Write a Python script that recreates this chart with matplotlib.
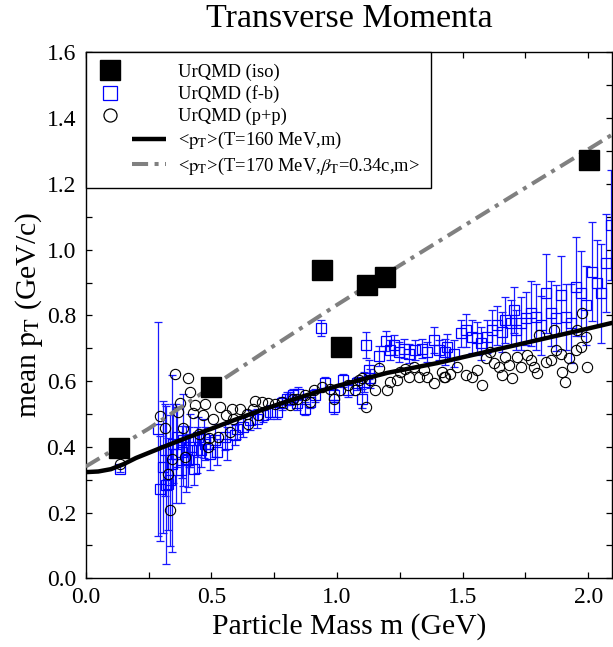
import matplotlib
matplotlib.use("Agg")
import matplotlib.pyplot as plt
from matplotlib.lines import Line2D
from matplotlib.legend_handler import HandlerLine2D
from matplotlib.ticker import MultipleLocator, FormatStrFormatter

plt.rcParams['font.family'] = ['Liberation Serif', 'DejaVu Serif']
plt.rcParams['mathtext.fontset'] = 'stix'

# ---------------- data ----------------
iso_mass = [0.132, 0.499, 0.939, 1.018, 1.118, 1.190, 2.004]
iso_mean = [0.395, 0.581, 0.937, 0.705, 0.891, 0.916, 1.273]

fb_mass = [0.136, 0.286, 0.295, 0.308, 0.315, 0.319, 0.328, 0.336, 0.343, 0.348,
           0.359, 0.362, 0.379, 0.382, 0.386, 0.399, 0.408, 0.412, 0.415, 0.432,
           0.442, 0.448, 0.459, 0.472, 0.475, 0.495, 0.515, 0.521, 0.554, 0.561,
           0.594, 0.601, 0.628, 0.654, 0.681, 0.707, 0.734, 0.761, 0.781, 0.800,
           0.814, 0.827, 0.840, 0.847, 0.874, 0.894, 0.913, 0.936, 0.953, 0.987,
           0.990, 1.026, 1.046, 1.080, 1.100, 1.106, 1.117, 1.126, 1.133, 1.166,
           1.195, 1.213, 1.226, 1.246, 1.266, 1.286, 1.312, 1.339, 1.359, 1.385,
           1.405, 1.432, 1.439, 1.465, 1.492, 1.512, 1.538, 1.558, 1.572, 1.598,
           1.618, 1.638, 1.658, 1.671, 1.691, 1.705, 1.711, 1.731, 1.751, 1.771,
           1.791, 1.811, 1.831, 1.851, 1.871, 1.891, 1.911, 1.931, 1.951, 1.971,
           1.991, 2.017, 2.037, 2.050, 2.070, 2.090]
fb_mean = [0.334, 0.455, 0.273, 0.338, 0.389, 0.283, 0.288, 0.298, 0.349, 0.410,
           0.379, 0.430, 0.328, 0.384, 0.420, 0.364, 0.359, 0.400, 0.420, 0.334,
           0.389, 0.430, 0.389, 0.425, 0.410, 0.379, 0.420, 0.384, 0.430, 0.410,
           0.435, 0.455, 0.460, 0.481, 0.486, 0.496, 0.506, 0.506, 0.532, 0.547,
           0.547, 0.557, 0.532, 0.562, 0.516, 0.537, 0.557, 0.762, 0.593, 0.557,
           0.521, 0.603, 0.572, 0.593, 0.547, 0.598, 0.709, 0.635, 0.608, 0.676,
           0.723, 0.694, 0.709, 0.689, 0.699, 0.684, 0.694, 0.699, 0.689, 0.725,
           0.694, 0.689, 0.704, 0.684, 0.745, 0.755, 0.735, 0.730, 0.715, 0.735,
           0.755, 0.770, 0.750, 0.786, 0.776, 0.816, 0.755, 0.776, 0.791, 0.806,
           0.796, 0.770, 0.867, 0.806, 0.791, 0.862, 0.796, 0.776, 0.887, 0.867,
           0.831, 0.933, 0.898, 0.867, 0.959, 1.075]
fb_err = [0.010, 0.325, 0.160, 0.200, 0.140, 0.240, 0.140, 0.200, 0.270, 0.120,
          0.150, 0.090, 0.100, 0.080, 0.140, 0.100, 0.080, 0.060, 0.080, 0.050,
          0.070, 0.060, 0.050, 0.060, 0.050, 0.050, 0.050, 0.040, 0.040, 0.050,
          0.030, 0.030, 0.030, 0.030, 0.030, 0.020, 0.020, 0.020, 0.020, 0.020,
          0.020, 0.020, 0.020, 0.020, 0.020, 0.020, 0.020, 0.025, 0.020, 0.020,
          0.020, 0.020, 0.020, 0.020, 0.030, 0.030, 0.040, 0.030, 0.030, 0.030,
          0.030, 0.030, 0.030, 0.030, 0.030, 0.030, 0.030, 0.030, 0.030, 0.040,
          0.030, 0.040, 0.040, 0.040, 0.040, 0.050, 0.050, 0.050, 0.050, 0.050,
          0.060, 0.060, 0.060, 0.070, 0.070, 0.070, 0.060, 0.080, 0.080, 0.100,
          0.100, 0.090, 0.120, 0.100, 0.100, 0.120, 0.100, 0.120, 0.150, 0.130,
          0.120, 0.150, 0.130, 0.150, 0.150, 0.168]

pp_mass = [0.136, 0.295, 0.317, 0.326, 0.336, 0.344, 0.355, 0.366, 0.375, 0.386,
           0.395, 0.406, 0.415, 0.426, 0.435, 0.452, 0.466, 0.476, 0.485, 0.492,
           0.505, 0.528, 0.534, 0.558, 0.574, 0.584, 0.588, 0.614, 0.641, 0.647,
           0.667, 0.674, 0.687, 0.701, 0.727, 0.754, 0.781, 0.814, 0.827, 0.840,
           0.874, 0.894, 0.907, 0.940, 0.973, 0.987, 1.013, 1.046, 1.073, 1.086,
           1.100, 1.117, 1.133, 1.153, 1.166, 1.199, 1.213, 1.239, 1.253, 1.272,
           1.286, 1.306, 1.326, 1.345, 1.359, 1.385, 1.419, 1.425, 1.432, 1.452,
           1.479, 1.512, 1.538, 1.558, 1.578, 1.592, 1.611, 1.625, 1.645, 1.658,
           1.671, 1.685, 1.698, 1.718, 1.731, 1.758, 1.771, 1.784, 1.798, 1.804,
           1.831, 1.851, 1.864, 1.871, 1.891, 1.897, 1.907, 1.924, 1.937, 1.951,
           1.957, 1.971, 1.977, 1.991, 1.997]
pp_mean = [0.349, 0.493, 0.457, 0.316, 0.209, 0.364, 0.623, 0.506, 0.534, 0.457,
           0.369, 0.610, 0.567, 0.503, 0.527, 0.438, 0.496, 0.530, 0.398, 0.428,
           0.486, 0.430, 0.520, 0.496, 0.445, 0.514, 0.486, 0.514, 0.501, 0.471,
           0.516, 0.539, 0.496, 0.537, 0.532, 0.530, 0.537, 0.527, 0.547, 0.547,
           0.557, 0.537, 0.572, 0.582, 0.577, 0.547, 0.572, 0.588, 0.572, 0.603,
           0.608, 0.521, 0.603, 0.572, 0.641, 0.572, 0.598, 0.603, 0.628, 0.638,
           0.613, 0.643, 0.613, 0.633, 0.613, 0.593, 0.628, 0.613, 0.613, 0.623,
           0.643, 0.618, 0.613, 0.633, 0.588, 0.669, 0.689, 0.654, 0.643, 0.618,
           0.674, 0.649, 0.608, 0.674, 0.643, 0.679, 0.664, 0.643, 0.625, 0.740,
           0.659, 0.664, 0.755, 0.694, 0.684, 0.628, 0.596, 0.669, 0.643, 0.694,
           0.755, 0.704, 0.808, 0.735, 0.643]

curve_mass = [0.0, 0.05, 0.10, 0.15, 0.20, 0.30, 0.40, 0.50, 0.60, 0.70, 0.80,
              0.90, 1.00, 1.20, 1.40, 1.60, 1.80, 2.00, 2.10]
thermal_T160 = [0.323, 0.325, 0.332, 0.347, 0.366, 0.397, 0.427, 0.455, 0.484,
                0.512, 0.538, 0.562, 0.585, 0.625, 0.655, 0.690, 0.725, 0.760, 0.778]

flow_mass = [0.0, 0.25, 0.5, 0.75, 1.0, 1.25, 1.5, 1.75, 2.0, 2.1]
flow_T170 = [0.340, 0.455, 0.582, 0.708, 0.832, 0.952, 1.070, 1.188, 1.305, 1.352]

legend_labels = ['UrQMD (iso)', 'UrQMD (f-b)', 'UrQMD (p+p)',
                 r'<$\mathrm{p}_\mathrm{T}$>(T=160 MeV,m)',
                 r'<$\mathrm{p}_\mathrm{T}$>(T=170 MeV,$\beta_\mathrm{T}$=0.34c,m>']

# ---------------- figure ----------------
fig = plt.figure(figsize=(6.13, 6.47), dpi=100)
ax = fig.add_axes([0.1398, 0.1062, 0.8586, 0.8127])

ax.errorbar(fb_mass, fb_mean, yerr=fb_err, fmt='s', ms=6.8, mfc='none',
            mec='#0000ff', mew=0.9, ecolor='#1a1aff', elinewidth=0.9,
            capsize=3, capthick=0.9, zorder=2)
ax.plot(pp_mass, pp_mean, 'o', ms=7.4, mfc='none', mec='black', mew=0.8,
        zorder=3)
ax.plot(curve_mass, thermal_T160, color='black', lw=3.2, zorder=4,
        solid_capstyle='butt')
ax.plot(flow_mass, flow_T170, color='#808080', lw=2.9, zorder=4,
        linestyle=(0, (4.0, 1.6, 1.0, 1.6)))
ax.plot(iso_mass, iso_mean, 's', ms=13.7, color='black', zorder=5)

ax.set_xlim(0, 2.095)
ax.set_ylim(0, 1.6)
ax.xaxis.set_major_locator(MultipleLocator(0.5))
ax.xaxis.set_minor_locator(MultipleLocator(0.25))
ax.yaxis.set_major_locator(MultipleLocator(0.2))
ax.yaxis.set_minor_locator(MultipleLocator(0.1))
ax.xaxis.set_major_formatter(FormatStrFormatter('%.1f'))
ax.yaxis.set_major_formatter(FormatStrFormatter('%.1f'))
ax.tick_params(which='both', direction='in', top=True, right=True,
               length=4, width=0.9, labelsize=17)
ax.tick_params(axis='x', pad=6)
ax.tick_params(axis='y', pad=7)
for s in ax.spines.values():
    s.set_linewidth(1.0)

ax.set_xlabel('Particle Mass m (GeV)', fontsize=21.3, labelpad=4)
ax.set_ylabel(r'mean $\mathrm{p}_\mathrm{T}$ (GeV/c)', fontsize=21.3, labelpad=1)
ax.set_title('Transverse Momenta', fontsize=24.5, pad=18)


class PlacedHandler(HandlerLine2D):
    def __init__(self, x0, x1=None, **kw):
        super().__init__(**kw)
        self.x0 = x0
        self.x1 = x1

    def create_artists(self, legend, orig_handle, xdescent, ydescent,
                       width, height, fontsize, trans):
        arts = super().create_artists(legend, orig_handle, xdescent, ydescent,
                                      width, height, fontsize, trans)
        y = (height - ydescent) / 2
        for a in arts:
            a.set_markevery(None)
            if self.x1 is None:
                a.set_data([-xdescent + self.x0 * width], [y])
            else:
                a.set_data([-xdescent + self.x0 * width,
                            -xdescent + self.x1 * width], [y, y])
        return arts


h_iso = Line2D([], [], marker='s', ls='none', ms=13.7, color='black')
h_fb = Line2D([], [], marker='s', ls='none', ms=9.4, mfc='none',
              mec='#0000ff', mew=0.9)
h_pp = Line2D([], [], marker='o', ls='none', ms=9.4, mfc='none',
              mec='black', mew=0.9)
h_t = Line2D([], [], color='black', lw=3.2, solid_capstyle='butt')
h_f = Line2D([], [], color='#808080', lw=2.9,
             linestyle=(0, (4.0, 1.6, 1.0, 1.6)))

mk = PlacedHandler(0.19)
ln = PlacedHandler(0.507, 1.0)
leg = ax.legend([h_iso, h_fb, h_pp, h_t, h_f], legend_labels,
                loc='upper left', bbox_to_anchor=(0, 1), borderaxespad=0,
                fontsize=13.3, frameon=True, fancybox=False, framealpha=1,
                edgecolor='black', borderpad=0.6, handlelength=3.73,
                handletextpad=0.65, labelspacing=0.25,
                handler_map={h_iso: mk, h_fb: mk, h_pp: mk, h_t: ln, h_f: ln})
leg.get_frame().set_linewidth(1.0)
leg.set_zorder(10)

fig.savefig('out.png', dpi=100)
